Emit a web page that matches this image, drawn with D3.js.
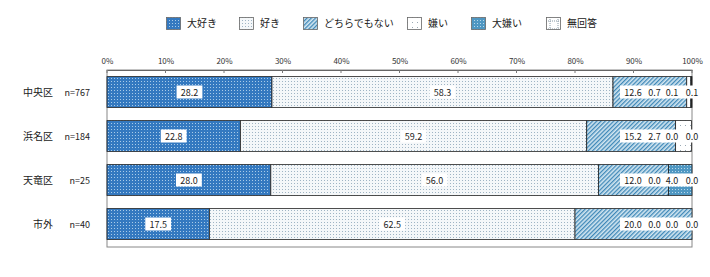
<!DOCTYPE html>
<html><head><meta charset="utf-8">
<script src="https://cdn.jsdelivr.net/npm/d3@7"></script>
<style>body{margin:0;background:#fff}svg{display:block}text{font-family:"Noto Sans CJK JP","DejaVu Sans",sans-serif}</style>
</head><body><svg id="c" width="710" height="277"></svg>
<script>
const categories = ["中央区","浜名区","天竜区","市外"];
const counts = ["n=767","n=184","n=25","n=40"];
const seriesNames = ["大好き","好き","どちらでもない","嫌い","大嫌い","無回答"];
const s1 = [28.2, 22.8, 28.0, 17.5];
const s2 = [58.3, 59.2, 56.0, 62.5];
const s3 = [12.6, 15.2, 12.0, 20.0];
const s4 = [0.7, 2.7, 0.0, 0.0];
const s5 = [0.1, 0.0, 4.0, 0.0];
const s6 = [0.1, 0.0, 0.0, 0.0];
const tickValues = [0,10,20,30,40,50,60,70,80,90,100];
const series = [s1,s2,s3,s4,s5,s6];

const svg = d3.select("#c");
const defs = svg.append("defs");
function dotPat(id,bg,dot,step,r){
  const p=defs.append("pattern").attr("id",id).attr("patternUnits","userSpaceOnUse").attr("width",step).attr("height",step);
  p.append("rect").attr("width",step).attr("height",step).attr("fill",bg);
  p.append("rect").attr("x",0).attr("y",0).attr("width",r).attr("height",r).attr("fill",dot);
}
dotPat("p0","#3479c0","#a9cbe8",3,1);
dotPat("p1","#f4f7f9","#9fb4c4",3,1);
{const p=defs.append("pattern").attr("id","p2").attr("patternUnits","userSpaceOnUse").attr("width",3).attr("height",3).attr("patternTransform","rotate(45)");
 p.append("rect").attr("width",3).attr("height",3).attr("fill","#d2e6f1");
 p.append("rect").attr("width",1.3).attr("height",3).attr("fill","#3f88b8");}
dotPat("p3","#ffffff","#9aa9b4",5,1);
dotPat("p4","#4f97c2","#b9d8ea",3,1);
{const p=defs.append("pattern").attr("id","p5").attr("patternUnits","userSpaceOnUse").attr("width",8).attr("height",8);
 p.append("rect").attr("width",8).attr("height",8).attr("fill","#fff");
 p.append("path").attr("d","M4,0V8M0,4H8").attr("stroke","#8899a6").attr("stroke-width",1).attr("stroke-dasharray","1,1");}

const x = d3.scaleLinear().domain([0,100]).range([107,692]);
const y = d3.scaleBand().domain(categories).range([70,246]).paddingInner(0.3).paddingOuter(0.15);

// legend
const legX = [166,239,303,407,471,546];
seriesNames.forEach((n,i)=>{
  const g = svg.append("g").attr("transform",`translate(${legX[i]},17)`);
  g.append("rect").attr("x",0.5).attr("y",0.5).attr("width",14).attr("height",12).attr("fill",`url(#p${i})`).attr("stroke","#666").attr("stroke-width",0.8);
  g.append("text").attr("x",21).attr("y",10).attr("font-size",10).attr("fill","#222").text(n);
});

// frame
svg.append("rect").attr("x",x(0)).attr("y",70).attr("width",x(100)-x(0)).attr("height",177).attr("fill","none").attr("stroke","#888").attr("stroke-width",1);
// axis
const ax = svg.append("g").attr("transform","translate(0,70)").call(d3.axisTop(x).tickValues(tickValues).tickSize(0).tickPadding(6).tickFormat(d=>d+"%"));
ax.select(".domain").attr("stroke","#666");
ax.selectAll("text").attr("font-size",8).attr("fill","#333").attr("font-family","'DejaVu Sans',sans-serif");
svg.append("g").selectAll("line").data(tickValues).join("line")
  .attr("x1",d=>x(d)).attr("x2",d=>x(d)).attr("y1",70).attr("y2",73).attr("stroke","#777");

// bars
categories.forEach((c,ci)=>{
  let acc=0;
  series.forEach((s,si)=>{
    const v=s[ci];
    if(v>0){
      svg.append("rect").attr("x",x(acc)).attr("y",y(c)).attr("width",x(acc+v)-x(acc)).attr("height",y.bandwidth())
        .attr("fill",`url(#p${si})`).attr("stroke","#222").attr("stroke-width",0.8);
    }
    acc+=v;
  });
  // labels
  const cy=y(c)+y.bandwidth()/2;
  svg.append("text").attr("x",53).attr("y",cy+4).attr("text-anchor","end").attr("font-size",10).attr("fill","#222").text(c);
  svg.append("text").attr("x",90).attr("y",cy+4).attr("text-anchor","end").attr("font-size",9).attr("fill","#222").attr("font-family","'DejaVu Sans',sans-serif").text(counts[ci]);
  const lblPos=[s1[ci]/2, s1[ci]+s2[ci]/2, 89.9, 93.6, 96.6, 100];
  series.forEach((s,si)=>{
    const t=s[ci].toFixed(1);
    const px=x(lblPos[si]);
    const w=t.length*5.2+5;
    svg.append("rect").attr("x",px-w/2).attr("y",cy-6.5).attr("width",w).attr("height",13).attr("fill","#fff");
    svg.append("text").attr("x",px).attr("y",cy+3.5).attr("text-anchor","middle").attr("font-size",9).attr("fill","#222").attr("font-family","'DejaVu Sans',sans-serif").text(t);
  });
});
</script></body></html>
